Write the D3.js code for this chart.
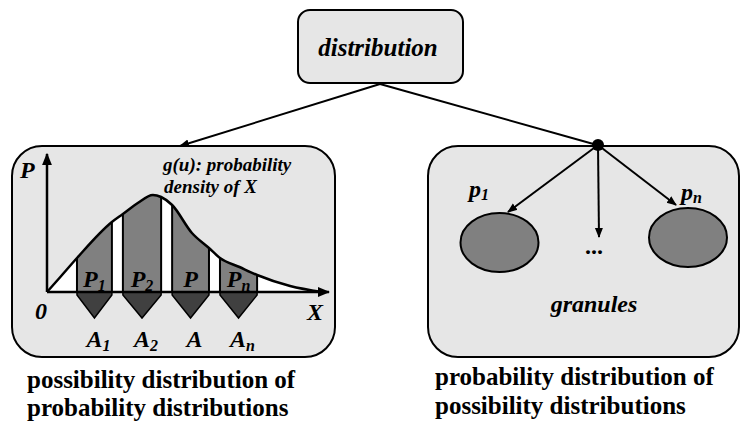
<!DOCTYPE html>
<html>
<head>
<meta charset="utf-8">
<script src="https://cdn.jsdelivr.net/npm/d3@7"></script>
<style>
  body { margin: 0; background: #fff; }
</style>
</head>
<body>
<div id="chart"></div>
<script>
// density curve g(u): sample positions and values
var curveU = [0, 0.5, 1.09, 2.36, 2.76, 3.3, 3.85, 4.15, 4.55, 5.27, 5.89, 6.29, 7.0, 7.64, 8.84, 10];
var curveG = [0, 0.155, 0.34, 0.70, 0.78, 0.89, 0.97, 0.95, 0.87, 0.59, 0.44, 0.34, 0.25, 0.17, 0.06, 0];

// intervals of the shaded granules
var barStart = [1.09, 2.76, 4.55, 6.29];
var barEnd = [2.36, 4.15, 5.89, 7.64];
var barLabels = ["P", "P", "P", "P"];
var barSubs = ["1", "2", "", "n"];
var setLabels = ["A", "A", "A", "A"];
var setSubs = ["1", "2", "", "n"];

// right side granules
var granuleLabels = ["p", "p"];
var granuleSubs = ["1", "n"];

var svgWidth = 741;
var svgHeight = 424;

var svg = d3.select("#chart")
  .append("svg")
  .attr("width", svgWidth)
  .attr("height", svgHeight)
  .attr("font-family", "'Liberation Serif', 'Times New Roman', serif")
  .attr("font-weight", "bold");

var defs = svg.append("defs");
defs.append("marker")
  .attr("id", "arrow")
  .attr("viewBox", "0 0 10 10")
  .attr("refX", 9)
  .attr("refY", 5)
  .attr("markerWidth", 5)
  .attr("markerHeight", 5)
  .attr("orient", "auto")
  .append("path")
  .attr("d", "M0,1 L10,5 L0,9 Z")
  .attr("fill", "#000");

var boxFill = "#e6e6e6";

// ---- top box
svg.append("rect")
  .attr("x", 298).attr("y", 10)
  .attr("width", 165).attr("height", 73)
  .attr("rx", 12)
  .attr("fill", boxFill)
  .attr("stroke", "#000")
  .attr("stroke-width", 2);

svg.append("text")
  .attr("x", 378).attr("y", 56)
  .attr("text-anchor", "middle")
  .style("font-size", "25px")
  .style("font-style", "italic")
  .text("distribution");

// connectors
svg.append("line")
  .attr("x1", 380).attr("y1", 84)
  .attr("x2", 180).attr("y2", 146)
  .attr("stroke", "#000").attr("stroke-width", 2)
  .attr("marker-end", "url(#arrow)");

svg.append("line")
  .attr("x1", 380).attr("y1", 84)
  .attr("x2", 597).attr("y2", 145)
  .attr("stroke", "#000").attr("stroke-width", 2);

// ---- left box
svg.append("rect")
  .attr("x", 12).attr("y", 146)
  .attr("width", 323).attr("height", 211)
  .attr("rx", 30)
  .attr("fill", boxFill)
  .attr("stroke", "#000")
  .attr("stroke-width", 2);

var xScale = d3.scaleLinear().domain([0, 10]).range([47, 322]);
var yScale = d3.scaleLinear().domain([0, 1]).range([292, 192]);
var pts = curveU.map((u, i) => [u, curveG[i]]);

var area = d3.area()
  .x(d => xScale(d[0]))
  .y0(yScale(0))
  .y1(d => yScale(d[1]))
  .curve(d3.curveMonotoneX);

var line = d3.line()
  .x(d => xScale(d[0]))
  .y(d => yScale(d[1]))
  .curve(d3.curveMonotoneX);

defs.append("clipPath")
  .attr("id", "under")
  .append("path")
  .attr("d", area(pts));

svg.append("path")
  .attr("d", area(pts))
  .attr("fill", "#fff");

var plot = svg.append("g");

// bars under the curve
plot.selectAll("rect.bar")
  .data(barStart)
  .enter()
  .append("rect")
  .attr("class", "bar")
  .attr("x", (d, i) => xScale(d))
  .attr("y", 150)
  .attr("width", (d, i) => xScale(barEnd[i]) - xScale(d))
  .attr("height", yScale(0) - 150)
  .attr("fill", "#808080")
  .attr("stroke", "#000")
  .attr("stroke-width", 2)
  .attr("clip-path", "url(#under)");

// pentagons under the axis
plot.selectAll("path.set")
  .data(barStart)
  .enter()
  .append("path")
  .attr("class", "set")
  .attr("d", function(d, i) {
    var x0 = xScale(d), x1 = xScale(barEnd[i]), y0 = yScale(0);
    return "M" + x0 + "," + y0 + "L" + x1 + "," + y0 + "L" + x1 + "," + (y0 + 3) +
      "L" + (x0 + x1) / 2 + "," + (y0 + 26) + "L" + x0 + "," + (y0 + 3) + "Z";
  })
  .attr("fill", "#404040")
  .attr("stroke", "#000")
  .attr("stroke-width", 1.5);

// curve
plot.append("path")
  .attr("d", line(pts))
  .attr("fill", "none")
  .attr("stroke", "#000")
  .attr("stroke-width", 2.5);

// axes
plot.append("line")
  .attr("x1", xScale(0)).attr("y1", yScale(0))
  .attr("x2", 329).attr("y2", yScale(0))
  .attr("stroke", "#000").attr("stroke-width", 2.5)
  .attr("marker-end", "url(#arrow)");
plot.append("line")
  .attr("x1", xScale(0)).attr("y1", yScale(0))
  .attr("x2", xScale(0)).attr("y2", 154)
  .attr("stroke", "#000").attr("stroke-width", 2.5)
  .attr("marker-end", "url(#arrow)");

// labels inside bars
var pText = plot.selectAll("text.plabel")
  .data(barLabels)
  .enter()
  .append("text")
  .attr("class", "plabel")
  .attr("x", (d, i) => (xScale(barStart[i]) + xScale(barEnd[i])) / 2)
  .attr("y", 287)
  .attr("text-anchor", "middle")
  .style("font-size", "24px")
  .style("font-style", "italic");
pText.append("tspan").text(d => d);
pText.append("tspan")
  .attr("dy", 4)
  .style("font-size", "16px")
  .text((d, i) => barSubs[i]);

var aText = plot.selectAll("text.alabel")
  .data(setLabels)
  .enter()
  .append("text")
  .attr("class", "alabel")
  .attr("x", (d, i) => (xScale(barStart[i]) + xScale(barEnd[i])) / 2 + 4)
  .attr("y", 347)
  .attr("text-anchor", "middle")
  .style("font-size", "24px")
  .style("font-style", "italic");
aText.append("tspan").text(d => d);
aText.append("tspan")
  .attr("dy", 4)
  .style("font-size", "16px")
  .text((d, i) => setSubs[i]);

plot.append("text").attr("x", 20).attr("y", 178)
  .style("font-size", "24px").style("font-style", "italic").text("P");
plot.append("text").attr("x", 35).attr("y", 319)
  .style("font-size", "24px").style("font-style", "italic").text("0");
plot.append("text").attr("x", 307).attr("y", 320)
  .style("font-size", "24px").style("font-style", "italic").text("X");
plot.append("text").attr("x", 163).attr("y", 171)
  .style("font-size", "19px").style("font-style", "italic").text("g(u): probability");
plot.append("text").attr("x", 164).attr("y", 193)
  .style("font-size", "19px").style("font-style", "italic").text("density of X");

// ---- right box
svg.append("rect")
  .attr("x", 428).attr("y", 146)
  .attr("width", 311).attr("height", 211)
  .attr("rx", 30)
  .attr("fill", boxFill)
  .attr("stroke", "#000")
  .attr("stroke-width", 2);

var hub = [598, 145];
var targets = [[508, 212], [599, 237], [676, 205]];
svg.selectAll("line.spoke")
  .data(targets)
  .enter()
  .append("line")
  .attr("class", "spoke")
  .attr("x1", hub[0]).attr("y1", hub[1])
  .attr("x2", d => d[0]).attr("y2", d => d[1])
  .attr("stroke", "#000").attr("stroke-width", 2)
  .attr("marker-end", "url(#arrow)");

svg.append("circle")
  .attr("cx", hub[0]).attr("cy", hub[1])
  .attr("r", 6).attr("fill", "#000");

var ellipses = [[499.5, 242.5], [688, 237.5]];
svg.selectAll("ellipse")
  .data(ellipses)
  .enter()
  .append("ellipse")
  .attr("cx", d => d[0]).attr("cy", d => d[1])
  .attr("rx", 39).attr("ry", 29.5)
  .attr("fill", "#808080")
  .attr("stroke", "#000").attr("stroke-width", 2);

var gText = svg.selectAll("text.glabel")
  .data(granuleLabels)
  .enter()
  .append("text")
  .attr("class", "glabel")
  .attr("x", (d, i) => [469, 681][i])
  .attr("y", (d, i) => [197, 200][i])
  .style("font-size", "24px")
  .style("font-style", "italic");
gText.append("tspan").text(d => d);
gText.append("tspan")
  .attr("dy", 3)
  .style("font-size", "16px")
  .text((d, i) => granuleSubs[i]);

svg.append("text").attr("x", 594).attr("y", 254)
  .attr("text-anchor", "middle")
  .style("font-size", "24px").text("...");

svg.append("text").attr("x", 594).attr("y", 312)
  .attr("text-anchor", "middle")
  .style("font-size", "24px").style("font-style", "italic").text("granules");

// captions
var captionsLeft = ["possibility distribution of", "probability distributions"];
var captionsRight = ["probability distribution of", "possibility distributions"];
captionsLeft.forEach(function(t, i) {
  svg.append("text").attr("x", 27).attr("y", 388 + i * 28)
    .style("font-size", "25px").text(t);
});
captionsRight.forEach(function(t, i) {
  svg.append("text").attr("x", 435).attr("y", 385 + i * 29)
    .style("font-size", "25px").text(t);
});
</script>
</body>
</html>
